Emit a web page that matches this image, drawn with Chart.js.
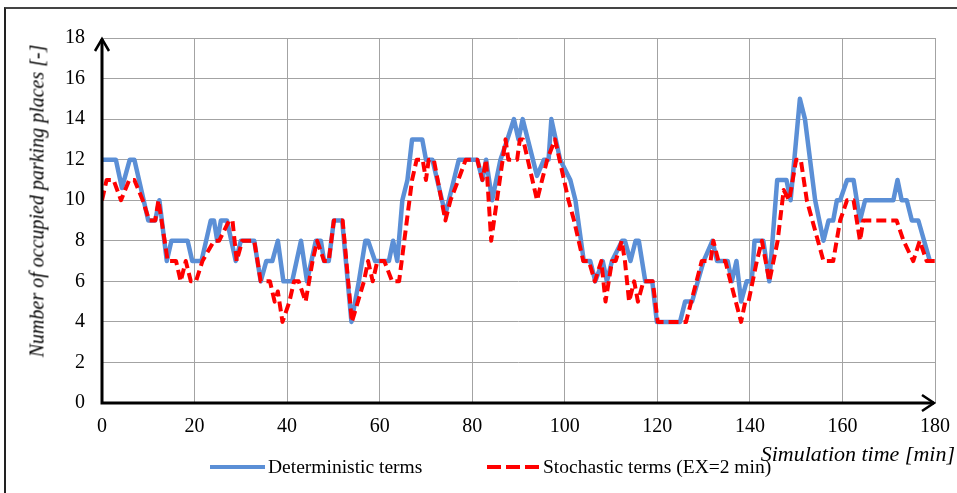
<!DOCTYPE html>
<html>
<head>
<meta charset="utf-8">
<script src="https://cdn.jsdelivr.net/npm/chart.js@4.4.0/dist/chart.umd.min.js"></script>
<style>
  body { margin: 0; background: #fff; }
  #wrap { position: relative; width: 957px; height: 493px; overflow: hidden; font-family: 'Liberation Serif', 'Times New Roman', serif; color: #000; }
  #frame { position: absolute; left: 4px; top: 7px; width: 1000px; height: 600px; border-top: 2px solid #444; border-left: 2px solid #222; }
  #chart { position: absolute; left: 0; top: 0; }
  .ytitle { position: absolute; left: 37px; top: 201px; transform: translate(-50%, -50%) rotate(-90deg); white-space: nowrap; font-style: italic; font-size: 20px; }
  .xtitle { position: absolute; right: 2px; top: 442px; font-style: italic; font-size: 22px; line-height: 24px; white-space: nowrap; }
  .lg { position: absolute; top: 455px; font-size: 19.5px; line-height: 24px; white-space: nowrap; }
  .swatch { position: absolute; top: 465px; height: 4px; }
</style>
</head>
<body>
<div id="wrap">
  <div id="frame"></div>
  <canvas id="chart" width="957" height="493"></canvas>
  <div class="ytitle">Number of occupied parking places [-]</div>
  <div class="xtitle">Simulation time [min]</div>
  <div class="swatch" style="left:210px; width:55px; background:#5b8fd6;"></div>
  <div class="lg" style="left:268px;">Deterministic terms</div>
  <div class="swatch" style="left:487px; width:54px; background:repeating-linear-gradient(to right, #ff0000 0 14px, transparent 14px 19px);"></div>
  <div class="lg" style="left:543px;">Stochastic terms (EX=2 min)</div>
</div>
<script>
// simulation time [min] and occupied places
const blueTime = [0, 3, 4.3, 6, 7, 8, 10, 11.5, 12.4, 14,
  15, 18.5, 19.5, 21.5, 23.5, 24.2, 24.9, 25.7, 27, 28.9,
  30, 32.9, 34.3, 35.5, 36.8, 38, 39.2, 41.1, 43, 44.3,
  46.2, 47.3, 48, 49, 50.1, 51.9, 53.9, 55.5, 56.9, 57.5,
  59, 62, 62.9, 63.8, 64.9, 66, 67, 69.2, 70, 71.4,
  74.2, 77.1, 81.1, 82.2, 83, 84.3, 86.1, 87.6, 89, 90,
  90.9, 94, 95.5, 96.5, 97.1, 99, 101.2, 102.3, 104.1, 105.5,
  106.6, 108.2, 109.1, 110.2, 112.4, 113, 114.2, 115.3, 116, 117.4,
  118.9, 119.9, 124.9, 126, 127.5, 130, 131.9, 132.9, 135.2, 136.1,
  137.1, 138.1, 139.3, 140.4, 141, 142.9, 144.2, 145.9, 147.9, 148.8,
  150.8, 151.9, 154.1, 155.9, 157, 158, 158.8, 159.5, 161, 162.4,
  163.8, 164.9, 171, 171.9, 172.8, 173.9, 175, 176.4, 178.9];
const blueCount = [12, 12, 10.6, 12, 12, 11, 9, 9, 10, 7,
  8, 8, 7, 7, 9, 9, 8, 9, 9, 7,
  8, 8, 6, 7, 7, 8, 6, 6, 8, 6,
  8, 8, 7, 7, 9, 9, 4, 6, 8, 8,
  7, 7, 8, 7, 10, 11, 13, 13, 12, 12,
  9.3, 12, 12, 11, 12, 10, 12, 13, 14, 13,
  14, 11.2, 12, 12, 14, 12, 11, 10, 7, 7,
  6, 7, 6, 7, 8, 8, 7, 8, 8, 6,
  6, 4, 4, 5, 5, 7, 8, 7, 7, 6,
  7, 5, 6, 6, 8, 8, 6, 11, 11, 10,
  15, 14, 10, 8, 9, 9, 10, 10, 11, 11,
  9, 10, 10, 11, 10, 10, 9, 9, 7];

const redTime = [0, 1, 2.5, 4.1, 5.9, 7, 8.8, 10.2, 11.5, 12.2,
  14.2, 16, 17, 18.1, 19.2, 20.3, 21.7, 24.2, 25.3, 27.5,
  28.2, 29.1, 30.3, 32.9, 34.3, 36.3, 37.3, 38, 39, 40.5,
  41.5, 42.5, 44, 45.5, 46.5, 48, 49, 50.1, 52, 54,
  56.6, 57.5, 58.5, 59.5, 61, 62.7, 64.2, 67, 68, 69.3,
  70, 70.6, 71.7, 74.2, 75.3, 77, 78.6, 81.1, 82.2, 83,
  84.1, 87.2, 87.8, 89.7, 90.3, 91, 94, 96.2, 97.9, 100.8,
  102, 104, 105.2, 106.5, 107.9, 108.8, 110.2, 111, 112.3, 113,
  113.9, 115, 115.8, 117, 119, 120.1, 126.2, 129.6, 131.5, 132.1,
  133.2, 134.7, 135.8, 138.1, 139, 139.7, 141.5, 142.6, 144.2, 146,
  147.3, 148.5, 150, 151, 152.3, 155.9, 158, 159.5, 161, 162.4,
  163.8, 164.5, 171.7, 173.2, 175.3, 176.7, 178.2, 180];
const redCount = [10, 11, 11, 10, 11, 11, 10, 9, 9, 10,
  7, 7, 6, 7, 6, 6, 7, 8, 8, 9,
  9, 7, 8, 8, 6, 6, 5, 5.5, 4, 5,
  6, 6, 5, 7, 8, 7, 7, 9, 9, 4,
  6, 7, 6, 7, 7, 6, 6, 11, 12, 12,
  11, 12, 12, 9, 10, 11, 12, 12, 11, 12,
  8, 13, 12, 12, 13, 13, 10, 12, 13, 10,
  9, 7, 7, 6, 7, 5, 7, 7, 8, 7,
  5, 6, 5, 6, 6, 4, 4, 7, 7, 8,
  7, 7, 6, 4, 5, 5, 7, 8, 6, 8,
  10.5, 10, 12, 12, 10, 7, 7, 9, 10, 10,
  8, 9, 9, 8, 7, 8, 7, 7];

const xMax = 180, xStep = 20;
const yMax = 18, yStep = 2;

const serif = "'Liberation Serif', 'Times New Roman', serif";

function toPoints(ts, vs) {
  return ts.map((t, i) => ({ x: t, y: vs[i] }));
}

// black axes with open arrow heads, drawn over the grid
const axisArrows = {
  id: 'axisArrows',
  afterDraw(chart) {
    const { ctx, chartArea: a } = chart;
    ctx.save();
    ctx.strokeStyle = '#000';
    ctx.lineWidth = 3;
    ctx.beginPath();
    ctx.moveTo(a.left, a.bottom + 1.5);
    ctx.lineTo(a.left, a.top + 1);
    ctx.moveTo(a.left - 1.5, a.bottom);
    ctx.lineTo(a.right - 1, a.bottom);
    ctx.stroke();
    ctx.lineWidth = 2.5;
    ctx.beginPath();
    ctx.moveTo(a.left - 7, a.top + 13);
    ctx.lineTo(a.left, a.top + 1);
    ctx.lineTo(a.left + 7, a.top + 13);
    ctx.moveTo(a.right - 13, a.bottom - 8);
    ctx.lineTo(a.right - 1, a.bottom);
    ctx.lineTo(a.right - 13, a.bottom + 8);
    ctx.stroke();
    ctx.restore();
  }
};

new Chart(document.getElementById('chart'), {
  type: 'line',
  data: {
    datasets: [
      {
        label: 'Deterministic terms',
        data: toPoints(blueTime, blueCount),
        borderColor: '#5b8fd6',
        borderWidth: 4.5,
        borderJoinStyle: 'round',
        pointRadius: 0,
        tension: 0,
        order: 1
      },
      {
        label: 'Stochastic terms (EX=2 min)',
        data: toPoints(redTime, redCount),
        borderColor: '#ff0000',
        borderWidth: 4,
        borderDash: [10, 5],
        borderJoinStyle: 'round',
        pointRadius: 0,
        tension: 0,
        order: 0
      }
    ]
  },
  options: {
    responsive: false,
    animation: false,
    layout: { padding: { top: 38, right: 22, left: 0, bottom: 0 } },
    plugins: {
      legend: { display: false },
      tooltip: { enabled: false }
    },
    scales: {
      x: {
        type: 'linear', min: 0, max: xMax,
        ticks: { stepSize: xStep, color: '#000', font: { family: serif, size: 20 }, padding: 12, maxRotation: 0 },
        grid: { color: '#a3a3a3', drawTicks: false },
        border: { display: false },
        afterFit(scale) {
          scale.height = 90;
          scale.paddingLeft = 0;
          scale.paddingRight = 0;
        }
      },
      y: {
        min: 0, max: yMax,
        ticks: { stepSize: yStep, color: '#000', font: { family: serif, size: 20 }, padding: 17 },
        grid: { color: '#a3a3a3', drawTicks: false },
        border: { display: false },
        afterFit(scale) {
          scale.width = 102;
          scale.paddingTop = 0;
          scale.paddingBottom = 0;
        }
      }
    }
  },
  plugins: [axisArrows]
});
</script>
</body>
</html>
